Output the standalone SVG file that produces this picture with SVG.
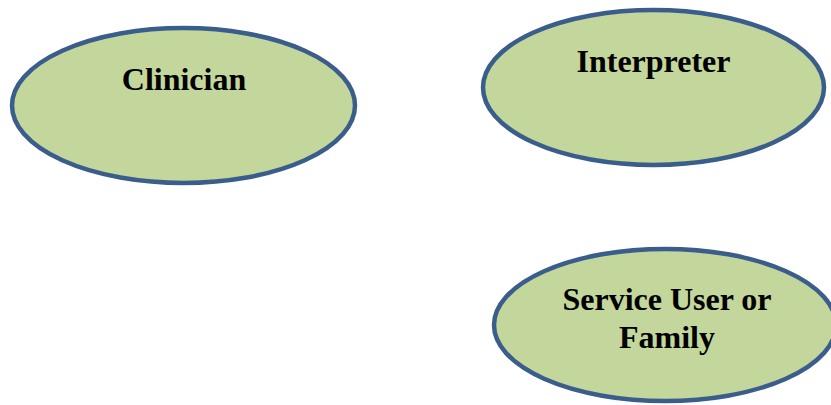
<svg xmlns="http://www.w3.org/2000/svg" width="831" height="405" viewBox="0 0 831 405">
<style>
.n{fill:#c3d69b;stroke:#3b5d8c;stroke-width:4.5}
.t{font-family:"Liberation Serif","Times New Roman",serif;font-weight:bold;font-size:32px;fill:#000;text-anchor:middle}
</style>
<rect width="831" height="405" fill="#fff"/>
<g id="connectors"></g>
<g id="clinician">
<ellipse class="n" cx="183.5" cy="105.5" rx="171.5" ry="77.5"/>
<text class="t" x="184" y="90">Clinician</text>
</g>
<g id="interpreter">
<ellipse class="n" cx="653.5" cy="87.5" rx="170.5" ry="77.5"/>
<text class="t" x="653.5" y="72">Interpreter</text>
</g>
<g id="service-user">
<ellipse class="n" cx="665" cy="325" rx="171" ry="76"/>
<text class="t" x="667" y="310">Service User or</text>
<text class="t" x="667" y="348">Family</text>
</g>
</svg>
